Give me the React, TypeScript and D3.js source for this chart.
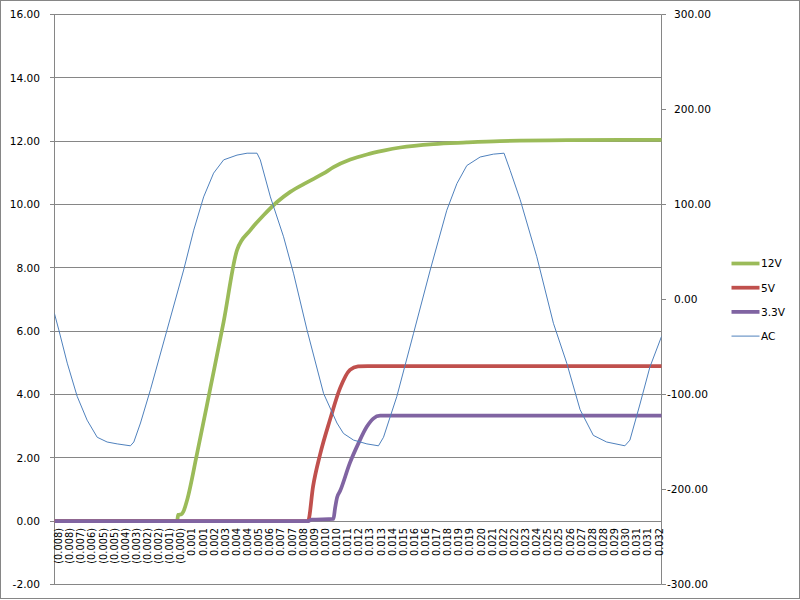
import React from "react";
import * as d3 from "d3";

// time in ms, values in volts
const t12 = [-8.62, -0.35, -0.28, -0.06, 0.07, 0.32, 0.98, 1.89, 2.79, 3.69, 4.59, 5.48, 6.39, 7.28, 8.41, 9.53, 10.2, 11.33, 12.45, 13.57, 14.7, 16.94, 19.19, 21.43, 25.93, 32.32];
const v12 = [0, 0, 0.2, 0.22, 0.3, 0.66, 2.1, 4.2, 6.3, 8.56, 9.19, 9.66, 10.08, 10.4, 10.7, 10.98, 11.18, 11.42, 11.58, 11.7, 11.8, 11.91, 11.96, 12.0, 12.03, 12.04];

const t5 = [-8.62, 8.48, 8.82, 9.29, 9.96, 10.64, 11.31, 11.85, 12.5, 32.32];
const v5 = [0, 0, 1.1, 2.1, 3.2, 4.2, 4.78, 4.89, 4.9, 4.9];

const t33 = [-8.62, 8.5, 8.7, 10.19, 10.3, 10.44, 10.64, 11.31, 11.87, 12.44, 12.88, 13.34, 32.32];
const v33 = [0, 0, 0.05, 0.07, 0.4, 0.75, 0.95, 1.85, 2.45, 2.98, 3.24, 3.33, 3.33];

const tAC = [-8.62, -8.33, -7.76, -7.09, -6.42, -5.74, -5.07, -4.39, -3.5, -3.27, -2.82, -2.15, -1.03, 0.09, 0.77, 1.44, 2.11, 2.79, 3.69, 4.37, 5.04, 5.26, 5.94, 6.83, 7.51, 8.41, 9.53, 10.43, 10.87, 11.55, 12.45, 13.23, 13.57, 14.47, 15.59, 16.72, 17.84, 18.52, 19.19, 20.09, 20.98, 21.7, 22.11, 22.79, 23.91, 25.03, 25.93, 26.83, 27.72, 28.62, 29.85, 30.19, 30.87, 31.54, 32.32];
const vAC = [-15, -32, -67, -102, -127, -145, -150, -152, -154, -150, -130, -95, -32, 31, 73, 108, 133, 147, 152, 154, 154, 147, 108, 66, 27, -32, -99, -130, -141, -148, -152, -154, -145, -102, -36, 31, 94, 122, 141, 150, 153, 154, 136, 105, 45, -25, -67, -116, -143, -150, -154, -148, -110, -71, -39];

const xTickLabels = [
  "(0.008)", "(0.008)", "(0.007)", "(0.006)", "(0.005)", "(0.005)", "(0.004)", "(0.003)", "(0.002)", "(0.002)", "(0.001)", "(0.000)",
  "0.001", "0.001", "0.002", "0.003", "0.004", "0.004", "0.005", "0.006", "0.007", "0.007", "0.008", "0.009", "0.010", "0.010",
  "0.011", "0.012", "0.013", "0.013", "0.014", "0.015", "0.016", "0.016", "0.017", "0.018", "0.019", "0.019", "0.020", "0.021",
  "0.022", "0.022", "0.023", "0.024", "0.025", "0.025", "0.026", "0.027", "0.028", "0.028", "0.029", "0.030", "0.031", "0.031", "0.032",
];
const xTickStart = -8.35; // ms
const xTickStep = 0.75; // ms

const leftTicks = [-2, 0, 2, 4, 6, 8, 10, 12, 14, 16];
const rightTicks = [-300, -200, -100, 0, 100, 200, 300];

const seriesNames = ["12V", "5V", "3.3V", "AC"];
const seriesColors = ["#9BBB59", "#C0504D", "#8064A2", "#4F81BD"];

const FONT = "'DejaVu Sans', Verdana, sans-serif";

export default function App() {
  const W = 800, H = 600;
  const L = 54.5, R = 661.5, T = 14.5, B = 584.5;
  const x = d3.scaleLinear().domain([-8.62, 32.32]).range([L, R]);
  const yL = d3.scaleLinear().domain([-2, 16]).range([B, T]);
  const yR = d3.scaleLinear().domain([-300, 300]).range([B, T]);

  const mk = (ts: number[], vs: number[]) => ts.map((t, i) => [t, vs[i]] as [number, number]);
  const lineL = d3.line<[number, number]>().x(d => x(d[0])).y(d => yL(d[1])).curve(d3.curveMonotoneX);
  const lineR = d3.line<[number, number]>().x(d => x(d[0])).y(d => yR(d[1]));

  const series = [
    { d: lineL(mk(t12, v12)), w: 3.75 },
    { d: lineL(mk(t5, v5)), w: 3.75 },
    { d: lineL(mk(t33, v33)), w: 3.75 },
    { d: lineR(mk(tAC, vAC)), w: 1 },
  ];

  const grid = "#868686";
  const snap = (v: number) => Math.round(v - 0.5) + 0.5;

  return (
    <>
      <style>{"body{margin:0}"}</style>
      <svg width={W} height={H} style={{ position: "absolute", left: 0, top: 0, background: "#fff" }}>
        <rect x={0.5} y={0.5} width={W - 1} height={598} fill="#fff" stroke={grid} />
        {leftTicks.map(v => (
          <g key={"l" + v}>
            <line x1={L - 4.5} x2={R} y1={snap(yL(v))} y2={snap(yL(v))} stroke={grid} />
            <text x={40} y={yL(v)} dy="0.36em" textAnchor="end" fontFamily={FONT} fontSize={10.6} fill="#000">
              {v.toFixed(2)}
            </text>
          </g>
        ))}
        <line x1={L} x2={L} y1={T} y2={B} stroke={grid} />
        <line x1={R} x2={R} y1={T} y2={B} stroke={grid} />
        {rightTicks.map(v => (
          <g key={"r" + v}>
            <line x1={R} x2={R + 4.5} y1={snap(yR(v))} y2={snap(yR(v))} stroke={grid} />
            <text x={v < 0 ? 667 : 674} y={yR(v)} dy="0.36em" textAnchor="start" fontFamily={FONT} fontSize={10.6} fill="#000">
              {v.toFixed(2)}
            </text>
          </g>
        ))}
        {xTickLabels.map((lab, i) => {
          const xx = x(xTickStart + i * xTickStep);
          return (
            <text
              key={"x" + i}
              transform={`translate(${xx},528) rotate(-90)`}
              dy="0.36em"
              textAnchor="end"
              fontFamily={FONT}
              fontSize={9.8}
              fill="#000"
            >
              {lab}
            </text>
          );
        })}
        <defs>
          <clipPath id="plot">
            <rect x={L} y={T - 3} width={R - L} height={B - T + 3} />
          </clipPath>
        </defs>
        <g clipPath="url(#plot)">
          {series.map((s, i) => (
            <path key={i} d={s.d || ""} fill="none" stroke={seriesColors[i]} strokeWidth={s.w} strokeLinejoin="round" strokeLinecap="round" />
          ))}
        </g>
        {seriesNames.map((n, i) => {
          const yy = 263.5 + i * 24.2;
          return (
            <g key={"lg" + n}>
              <line x1={731.5} x2={759.5} y1={yy} y2={yy} stroke={seriesColors[i]} strokeWidth={i < 3 ? 3.75 : 1} />
              <text x={761} y={yy} dy="0.36em" fontFamily={FONT} fontSize={10.6} fill="#000">
                {n}
              </text>
            </g>
          );
        })}
      </svg>
    </>
  );
}
